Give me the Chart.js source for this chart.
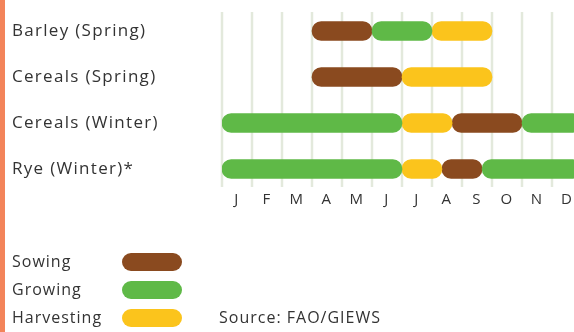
<!DOCTYPE html>
<html>
<head>
<meta charset="utf-8">
<script src="https://cdn.jsdelivr.net/npm/chart.js@4.4.1/dist/chart.umd.min.js"></script>
<style>
  html, body { margin: 0; padding: 0; background: #fff; overflow: hidden; }
  #wrap { position: relative; width: 600px; height: 332px; }
  #strip { position: absolute; left: 0; top: 0; width: 5px; height: 332px; background: #f3845a; z-index: 2; }
</style>
</head>
<body>
<div id="wrap">
  <div id="strip"></div>
  <canvas id="calendar" width="600" height="332"></canvas>
</div>
<script>
// crop calendar data: month ranges, 0 = start of January, 12 = end of December
const crops = ["Barley (Spring)", "Cereals (Spring)", "Cereals (Winter)", "Rye (Winter)*"];
const months = ["J", "F", "M", "A", "M", "J", "J", "A", "S", "O", "N", "D"];
const monthCentres = [0.5, 1.5, 2.5, 3.5, 4.5, 5.5, 6.5, 7.5, 8.5, 9.5, 10.5, 11.5];

const sowing      = [[3, 5], [3, 6], [7.67, 10], [7.33, 8.67]];
const growing     = [[5, 7], null, [0, 6], [0, 6]];
const growingLate = [null, null, [10, 12], [8.67, 12]];
const harvesting  = [[7, 9], [6, 9], [6, 7.67], [6, 7.33]];

const phases = ["Sowing", "Growing", "Harvesting"];
const colours = { Sowing: "#8a4a1f", Growing: "#5fb947", Harvesting: "#fbc41c" };

const FONT = "'Open Sans', sans-serif";
const TEXT = "#333333";

function pill(label, data, colour) {
  return {
    label: label,
    data: data,
    backgroundColor: colour,
    borderWidth: 0,
    borderSkipped: false,
    borderRadius: 10,
    barThickness: 19,
    grouped: false
  };
}

// wider tracking on all canvas text
const tracking = {
  id: "tracking",
  beforeLayout(chart) { chart.ctx.letterSpacing = "1.3px"; },
  beforeDraw(chart) { chart.ctx.letterSpacing = "1.3px"; }
};

// month boundary lines, a little shorter than the plot area
const monthLines = {
  id: "monthLines",
  beforeDatasetsDraw(chart) {
    const { ctx, chartArea } = chart;
    const x = chart.scales.x;
    ctx.save();
    ctx.strokeStyle = "#e3e9dc";
    ctx.lineWidth = 2.5;
    x.ticks.forEach(t => {
      const px = x.getPixelForValue(t.value);
      ctx.beginPath();
      ctx.moveTo(px, chartArea.top + 4);
      ctx.lineTo(px, chartArea.bottom - 5);
      ctx.stroke();
    });
    ctx.restore();
  }
};

// legend + source line drawn under the plot
const footer = {
  id: "footer",
  afterDraw(chart) {
    const ctx = chart.ctx;
    ctx.save();
    ctx.letterSpacing = "1px";
    ctx.font = "16px " + FONT;
    ctx.textBaseline = "middle";
    const rowsY = [262, 290, 318];
    phases.forEach((p, i) => {
      const y = rowsY[i];
      ctx.fillStyle = TEXT;
      ctx.fillText(p, 12, y);
      ctx.fillStyle = colours[p];
      ctx.beginPath();
      ctx.roundRect(122, y - 9, 60, 18, 9);
      ctx.fill();
    });
    ctx.fillStyle = TEXT;
    ctx.fillText("Source: FAO/GIEWS", 219, 318);
    ctx.restore();
  }
};

new Chart(document.getElementById("calendar"), {
  type: "bar",
  data: {
    labels: crops,
    datasets: [
      pill("Growing", growing, colours.Growing),
      pill("Growing (late)", growingLate, colours.Growing),
      pill("Harvesting", harvesting, colours.Harvesting),
      pill("Sowing", sowing, colours.Sowing)
    ]
  },
  options: {
    indexAxis: "y",
    responsive: false,
    animation: false,
    layout: { padding: { left: 12, top: 8, right: 18, bottom: 120 } },
    plugins: { legend: { display: false }, tooltip: { enabled: false } },
    scales: {
      y: {
        grid: { display: false },
        border: { display: false },
        ticks: {
          crossAlign: "far",
          color: TEXT,
          font: { family: FONT, size: 17 }
        },
        afterFit(scale) {
          scale.width = 210;
          scale.paddingTop = 0;
          scale.paddingBottom = 0;
        }
      },
      x: {
        type: "linear",
        min: 0,
        max: 12,
        border: { display: false },
        grid: { display: false, drawTicks: false },
        ticks: { display: false, stepSize: 1 },
        afterFit(scale) { scale.height = 0; }
      },
      xm: {
        type: "linear",
        position: "bottom",
        min: 0,
        max: 12,
        border: { display: false },
        grid: { display: false, drawTicks: false, tickLength: 0 },
        afterBuildTicks(scale) {
          scale.ticks = monthCentres.map(v => ({ value: v }));
        },
        ticks: {
          padding: -1,
          maxRotation: 0,
          autoSkip: false,
          color: TEXT,
          font: { family: FONT, size: 15 },
          callback: (v, i) => months[i]
        },
        afterFit(scale) { scale.height = 20; }
      }
    }
  },
  plugins: [tracking, monthLines, footer]
});
</script>
</body>
</html>
